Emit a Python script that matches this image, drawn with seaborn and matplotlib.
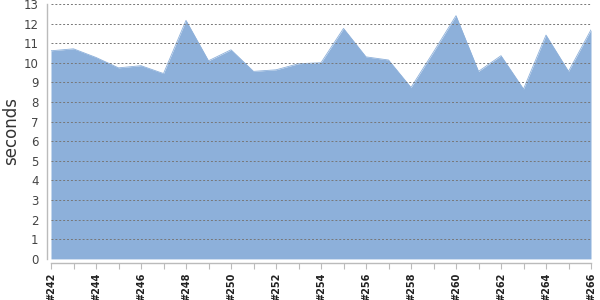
import numpy as np
import pandas as pd
import matplotlib
matplotlib.use("Agg")
import matplotlib.pyplot as plt
import seaborn as sns

builds = ["#%d" % b for b in range(242, 267)]
seconds = [10.61, 10.71, 10.27, 9.74, 9.85, 9.45, 12.16, 10.10, 10.66, 9.56,
           9.64, 9.95, 10.00, 11.75, 10.30, 10.14, 8.74, 10.55, 12.40, 9.56,
           10.36, 8.66, 11.41, 9.56, 11.68]
y_ticks = list(range(0, 14))

sns.set_theme(style="white")
plt.rcParams['font.family'] = ['DejaVu Sans']

df = pd.DataFrame({"pos": np.arange(len(builds)), "build": builds, "seconds": seconds})

fig = plt.figure(figsize=(6, 3), dpi=100)
ax = fig.add_axes([0.085, 0.137, 0.9, 0.85])

fill_color = "#8db0da"
sns.lineplot(data=df, x="pos", y="seconds", ax=ax, color=fill_color, linewidth=0.6)
ax.fill_between(df["pos"], 0, df["seconds"], color=fill_color, linewidth=0, zorder=1)

sns.despine(ax=ax, offset=3)
for side in ("left", "bottom"):
    ax.spines[side].set_color("#bbbbbb")
    ax.spines[side].set_linewidth(1.0)

ax.set_xlim(0, len(builds) - 1)
ax.set_ylim(0, 13)
ax.set_yticks(y_ticks)
ax.set_yticklabels([str(t) for t in y_ticks], fontsize=8.5, color="#444444")
ax.set_xticks(df["pos"])
ax.set_xticklabels([b if i % 2 == 0 else "" for i, b in enumerate(builds)],
                   rotation=90, fontsize=7, fontweight="bold", color="#222222")

ax.grid(axis="y", color="#777777", linestyle=(0, (2, 2)), linewidth=0.7, zorder=3)
ax.grid(axis="x", visible=False)
ax.set_axisbelow(False)

ax.tick_params(axis="y", length=0, pad=6)
ax.tick_params(axis="x", length=4, width=0.8, color="#bbbbbb", pad=3, bottom=True)

ax.set_xlabel("")
ax.set_ylabel("seconds", fontsize=12, color="#333333")
ax.yaxis.set_label_coords(-0.058, 0.5)

fig.savefig("out.png", dpi=100)
